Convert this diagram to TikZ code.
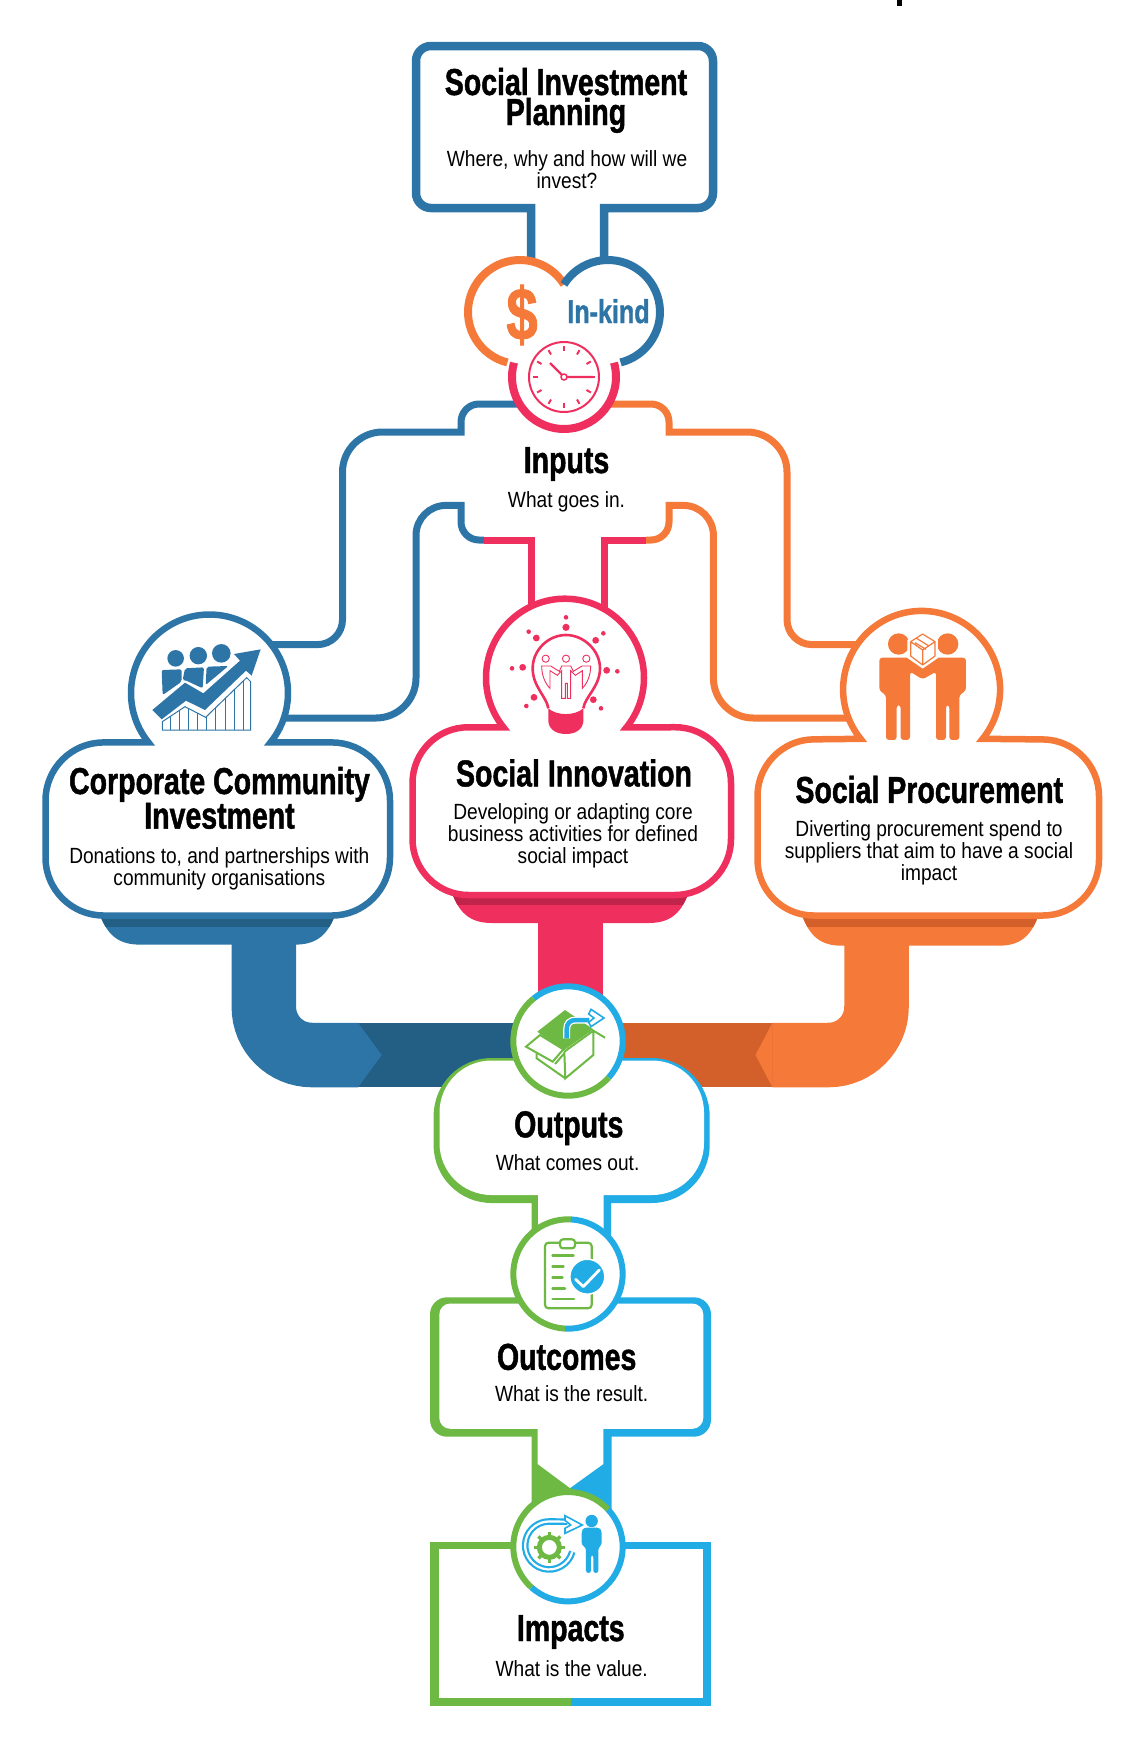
\documentclass[tikz,border=0pt]{standalone}
\usepackage{fontspec}
\usepackage{tikz}
\setmainfont{Liberation Sans}[FakeStretch=.87, BoldFeatures={FakeStretch=.76, FakeBold=1.2}]
\definecolor{stake}{HTML}{2E75A7}
\definecolor{stakedeep}{HTML}{235E85}
\definecolor{rose}{HTML}{EF2F5E}
\definecolor{rosedeep}{HTML}{C0244A}
\definecolor{tang}{HTML}{F57A39}
\definecolor{tangdeep}{HTML}{D3602A}
\definecolor{leaf}{HTML}{6DB944}
\definecolor{sky}{HTML}{22ACE5}
\newcommand{\ringarc}[5]{\draw[#1] (#2) ++(#3:#5pt) arc[start angle=#3,end angle=#4,radius=#5pt];}
\newcommand{\twotone}[2]{%
    \begin{scope}\clip (0,0) rectangle (571,1741); \fill[leaf] #1; \end{scope}
    \begin{scope}\clip (571,0) rectangle (1144,1741); \fill[sky] #1; \end{scope}
    \fill[white] #2;}

\begin{document}
\begin{tikzpicture}[
    x=1pt, y=-1pt,
    headline/.style={anchor=base, align=center, inner sep=0pt, font=\fontsize{37.5}{30}\selectfont\bfseries},
    blurb/.style={anchor=base, align=center, inner sep=0pt, font=\fontsize{22}{22}\selectfont},
    pipe/.style={line width=7pt},
    shell/.style={line width=6.5pt, fill=white, miter limit=10},
    ring/.style={line width=6pt},
    lump/.style={line width=8pt},
    trunk/.style={line width=64.5pt},
    icon/.style={shift={(#1)}, x=.3333pt, y=-.3333pt},
]
    \useasboundingbox (0,0) rectangle (1144,1741);
    \fill[black] (897,0) rectangle (902,6);

    \coordinate (cashring) at (520,312);
    \coordinate (kindring) at (608,312);
    \coordinate (clockring) at (564,377);
    \coordinate (corpring) at (209.5,693);
    \coordinate (ideasring) at (565,677.7);
    \coordinate (procring) at (921.6,689.4);
    \coordinate (outring) at (568,1041);
    \coordinate (resultring) at (568,1274);
    \coordinate (valuering) at (568,1546.7);
    \coordinate (corpstem) at (263.85,925);
    \coordinate (ideasstem) at (570.5,900);
    \coordinate (procstem) at (876.5,925);

    \draw[pipe, stake] (corpring |- 0,644.6) [rounded corners=25pt] -- (342.5,644.6) [rounded corners=40pt] -- (342.5,432) [sharp corners] -- (461,432) [rounded corners=18pt] -- (461,404) [sharp corners] -- (clockring |- 0,404);
    \draw[pipe, stake] (corpring |- 0,718) [rounded corners=40pt] -- (416,718) [rounded corners=30pt] -- (416,505.4) [sharp corners] -- (461,505.4) [rounded corners=18pt] -- (461,540) [sharp corners] -- (484,540);
    \draw[pipe, tang] (procring |- 0,644.6) [rounded corners=25pt] -- (787,644.6) [rounded corners=40pt] -- (787,432) [sharp corners] -- (669,432) [rounded corners=18pt] -- (669,404) [sharp corners] -- (clockring |- 0,404);
    \draw[pipe, tang] (procring |- 0,718) [rounded corners=40pt] -- (713.4,718) [rounded corners=30pt] -- (713.4,505.4) [sharp corners] -- (669,505.4) [rounded corners=18pt] -- (669,540) [sharp corners] -- (646,540);
    \draw[pipe, rose] (484,540) -- (531,540) -- (531,0 |- ideasring);
    \draw[pipe, rose] (646,540) -- (604,540) -- (604,0 |- ideasring);

    \draw[trunk, stakedeep] (350,1055) -- (outring |- 0,1055);
    \draw[trunk, tangdeep] (780,1055) -- (outring |- 0,1055);
    \draw[trunk, stake, rounded corners=48pt] (corpstem) |- (358,1055);
    \draw[trunk, tang, rounded corners=48pt] (procstem) |- (772.5,1055);
    \fill[stake] (358,1022.7) -- (381.7,1055) -- (358,1087.3) -- cycle;
    \fill[tang] (772.5,1022.7) -- (755.5,1055) -- (772.5,1087.3) -- cycle;
    \draw[trunk, rose] (ideasstem) -- (ideasstem |- outring);

    \foreach \sl/\sr/\st/\sb/\ink/\inkdeep in {100/335/915/944.6/stake/stakedeep, 452/688.5/893/923/rose/rosedeep, 802/1038.6/915/945.7/tang/tangdeep} {
        \fill[\ink] (\sl,\st) .. controls (\sl+8,\sb-8) and (\sl+20,\sb) .. (\sl+40,\sb) -- (\sr-40,\sb) .. controls (\sr-20,\sb) and (\sr-8,\sb-8) .. (\sr,\st) -- cycle;
        \begin{scope}
            \clip (\sl,\st) .. controls (\sl+8,\sb-8) and (\sl+20,\sb) .. (\sl+40,\sb) -- (\sr-40,\sb) .. controls (\sr-20,\sb) and (\sr-8,\sb-8) .. (\sr,\st) -- cycle;
            \fill[\inkdeep] (\sl,\st) rectangle (\sr,\st+12);
        \end{scope}
    }

    \filldraw[shell, draw=stake, line width=8.5pt] (531,275) -- (531,208) [rounded corners=15pt] -- (416,208) -- (416,46) -- (713,46) -- (713,208) [sharp corners] -- (604,208) -- (604,275);

    \filldraw[shell, draw=stake] (corpring) ++(219:78.5pt) arc[start angle=219,end angle=-39,radius=78.5pt] [rounded corners=58pt] -- (390,742.5) -- (390,915.5) -- (45.5,915.5) -- (45.5,742.5) [sharp corners] -- cycle;
    \filldraw[shell, draw=rose] (ideasring) ++(219:79pt) arc[start angle=219,end angle=-39,radius=79pt] [rounded corners=56pt] -- (731,727) -- (731,895) -- (412.5,895) -- (412.5,727) [sharp corners] -- cycle;
    \filldraw[shell, draw=tang] (procring) ++(219:78.5pt) arc[start angle=219,end angle=-39,radius=78.5pt] [rounded corners=56pt] -- (1099,740) -- (1099,915.5) -- (757.5,915.5) -- (757.5,740) [sharp corners] -- cycle;

    \twotone{(531.7,1235) -- (531.7,1203) [rounded corners=58pt] -- (433.6,1203) -- (433.6,1058) -- (709.7,1058) -- (709.7,1203) [sharp corners] -- (611,1203) -- (611,1235) -- cycle}{(538,1245) -- (538,1195) [rounded corners=52pt] -- (439.5,1195) -- (439.5,1060.5) -- (704,1060.5) -- (704,1195) [sharp corners] -- (603.5,1195) -- (603.5,1245) -- cycle}
    \twotone{(531.7,1510) -- (531.7,1436.7) [rounded corners=17pt] -- (430,1436.7) -- (430,1297.3) -- (711,1297.3) -- (711,1436.7) [sharp corners] -- (611.7,1436.7) -- (611.7,1510) -- cycle}{(537.7,1464) -- (537.7,1428.8) [rounded corners=11pt] -- (439.3,1428.8) -- (439.3,1303.5) -- (703.3,1303.5) -- (703.3,1428.8) [sharp corners] -- (603.3,1428.8) -- (603.3,1464) -- (570,1488) -- cycle}
    \twotone{(430,1541.6) rectangle (711,1705.5)}{(439.3,1549) rectangle (703.3,1698)}

    \fill[white] (outring) circle[radius=55pt];
    \fill[white] (resultring) circle[radius=55pt];
    \fill[white] (valuering) circle[radius=55pt];
    \ringarc{ring, sky}{outring}{129}{-42}{54.7}
    \ringarc{ring, leaf}{outring}{129}{318}{54.7}
    \ringarc{ring, leaf}{resultring}{87}{267}{54.7}
    \ringarc{ring, sky}{resultring}{87}{-93}{54.7}
    \ringarc{ring, sky}{valuering}{43}{-132}{54.7}
    \ringarc{ring, leaf}{valuering}{43}{228}{54.7}

    \fill[white] (cashring) circle[radius=52pt];
    \fill[white] (kindring) circle[radius=52pt];
    \fill[white] (clockring) circle[radius=52pt];
    \ringarc{lump, tang}{cashring}{32}{256}{52}
    \ringarc{lump, stake}{kindring}{148}{-76}{52}
    \ringarc{lump, rose}{clockring}{164}{376}{52}

    \node[font=\fontsize{74}{74}\selectfont\bfseries, text=tang, inner sep=0pt] (cashsign) at (522,315) {\$};
    \node[font=\fontsize{33}{33}\selectfont\bfseries, text=stake, anchor=base, inner sep=0pt] (kindsign) at (608.5,323) {In-kind};

    \draw[rose, line width=2pt] (clockring) circle[radius=35pt];
    \foreach \a in {0,30,...,330} {
        \draw[rose, line width=2pt] (clockring) ++(\a:26pt) -- ++(\a:5pt);
    }
    \draw[rose, line width=2.2pt] (clockring) ++(-14,-14) -- (clockring) -- ++(29,0);
    \filldraw[rose, fill=white, line width=1.5pt] (clockring) circle[radius=3pt];

    \node[headline] (plantitle) at (566,125) {Social Investment\\Planning};
    \node[blurb] (planblurb) at (567,188) {Where, why and how will we\\invest?};
    \node[headline] (inputstitle) at (566.5,473) {Inputs};
    \node[blurb] (inputsblurb) at (566.5,507) {What goes in.};
    \node[headline] (corptitle) at (219.5,828.6) {Corporate Community\\Investment};
    \node[blurb] (corpblurb) at (219.3,885.7) {Donations to, and partnerships with\\community organisations};
    \node[headline] (ideastitle) at (574,786.4) {Social Innovation};
    \node[blurb] (ideasblurb) at (573,863.6) {Developing or adapting core\\business activities for defined\\social impact};
    \node[headline] (proctitle) at (929.3,802.9) {Social Procurement};
    \node[blurb] (procblurb) at (929,880) {Diverting procurement spend to\\suppliers that aim to have a social\\impact};
    \node[headline] (outtitle) at (568.8,1137.3) {Outputs};
    \node[blurb] (outblurb) at (567.6,1170) {What comes out.};
    \node[headline] (resulttitle) at (566.7,1369.8) {Outcomes};
    \node[blurb] (resultblurb) at (571.7,1401.9) {What is the result.};
    \node[headline] (valuetitle) at (570.8,1641) {Impacts};
    \node[blurb] (valueblurb) at (571.7,1676) {What is the value.};

    \begin{scope}[icon={140,630}]
        \fill[stake] (107,85) circle[radius=8.3pt] (175,77) circle[radius=8.7pt] (244,70) circle[radius=9.3pt];
        \fill[stake, rounded corners=2pt] (65,120) -- (125,118) -- (125,155) -- (68,195) -- cycle;
        \fill[stake, rounded corners=2pt] (135,115) -- (192,112) -- (188,175) -- (135,150) -- (128,150) -- cycle;
        \fill[stake, rounded corners=2pt] (200,110) -- (265,108) -- (197,165) -- cycle;
        \fill[stake] (65,268) -- (138,212) -- (195,240) -- (318,122) -- (335,137) -- (362,58) -- (282,72) -- (300,92) -- (190,190) -- (135,158) -- (37,240) -- cycle;
        \begin{scope}
            \clip (67,300) -- (332,300) -- (332,155) -- (320,143) -- (197,262) -- (135,230) -- (67,275) -- cycle;
            \foreach \x in {93,120,147,173,200,228,257,285,310} {
                \draw[stake, line width=1pt] (\x,140) -- (\x,300);
            }
        \end{scope}
        \draw[stake, line width=1pt] (67,300) -- (332,300) -- (332,155) -- (320,143) -- (197,262) -- (135,230) -- (67,275) -- cycle;
    \end{scope}

    \begin{scope}[icon={500,600}]
        \foreach \dx/\dy/\dr in {198/52/2.3, 198/82/3.6, 86/95/2.3, 109/114/3.4, 310/100/2.3, 287/121/3.4, 36/205/2.3, 68/202/3.4, 352/214/2.3, 320/211/3.4, 102/292/3.4, 79/318/2.3, 280/299/3.4, 303/325/2.3} {
            \fill[rose] (\dx,\dy) circle[radius=\dr pt];
        }
        \draw[rose, line width=2.6pt] (145,325) .. controls (140,290) and (98,260) .. (98,205) .. controls (98,150) and (145,105) .. (198,105) .. controls (250,105) and (300,150) .. (300,205) .. controls (300,260) and (255,290) .. (250,325);
        \fill[rose] (145,325) .. controls (170,348) and (225,348) .. (250,325) -- (250,365) .. controls (247,390) and (225,402) .. (198,402) .. controls (170,402) and (148,390) .. (145,365) -- cycle;
        \foreach \hx in {137,198,259} {
            \draw[rose, line width=.9pt] (\hx,176) circle[radius=3.6pt];
        }
        \draw[rose, line width=.9pt] (125,198) -- (152,198) -- (178,214) -- (185,198) -- (212,198) -- (220,214) -- (246,198) -- (272,198) .. controls (272,225) and (262,250) .. (247,265) -- (247,212) -- (226,226) -- (212,212) -- (212,295) -- (202,295) -- (202,250) -- (196,250) -- (196,295) -- (185,295) -- (185,212) -- (172,226) -- (150,212) -- (150,265) .. controls (135,250) and (125,225) .. (125,198) -- cycle;
    \end{scope}

    \begin{scope}[icon={860,620}]
        \fill[tang] (116,72) circle[radius=10.7pt] (263,72) circle[radius=10.7pt];
        \fill[tang, rounded corners=3pt] (58,113) -- (150,113) -- (188,142) -- (228,113) -- (318,113) -- (318,212) -- (298,225) -- (298,360) -- (268,360) -- (268,255) -- (258,255) -- (258,360) -- (228,360) -- (228,155) -- (188,178) -- (150,155) -- (150,360) -- (122,360) -- (122,255) -- (110,255) -- (110,360) -- (78,360) -- (78,225) -- (58,212) -- cycle;
        \filldraw[draw=white, fill=white, line width=2.5pt] (188,36) -- (230,62) -- (230,112) -- (188,141) -- (146,112) -- (146,62) -- cycle;
        \draw[tang, line width=1.2pt, line join=round] (188,42) -- (225,65) -- (225,108) -- (188,135) -- (152,108) -- (152,65) -- cycle (152,65) -- (188,90) -- (225,65) (188,90) -- (188,135) (170,55) -- (205,77) (165,68) -- (198,88);
    \end{scope}

    \begin{scope}[icon={510,990}]
        \fill[leaf] (165,60) -- (82,125) -- (160,182) -- (250,118) -- cycle;
        \draw[leaf, line width=2pt] (163,185) -- (250,122) -- (285,143) (250,122) -- (250,195) -- (166,265) -- (163,185) (135,222) -- (163,190) (166,265) -- (80,205) -- (80,190);
        \filldraw[leaf, fill=white, line width=2pt] (48,170) -- (90,135) -- (160,178) -- (128,215) -- cycle;
        \draw[white, line width=7pt] (170,145) -- (170,118) .. controls (170,100) and (180,90) .. (198,90) -- (238,90);
        \draw[sky, line width=4.5pt] (170,145) -- (170,118) .. controls (170,100) and (180,90) .. (198,90) -- (238,90);
        \filldraw[sky, fill=white, line width=1.6pt] (236,72) -- (243,58) -- (282,84) -- (243,110) -- (236,97) -- (252,84) -- cycle;
    \end{scope}

    \begin{scope}[icon={510,1220}]
        \draw[leaf, line width=2.2pt, rounded corners=3.5pt] (105,68) rectangle (245,265);
        \filldraw[leaf, fill=white, line width=2.2pt, rounded corners=3pt] (150,58) rectangle (195,85);
        \foreach \ly/\lx in {107/190, 140/160, 172/157, 205/165, 237/192} {
            \draw[leaf, line width=2.8pt, line cap=round] (128,\ly) -- (\lx,\ly);
        }
        \filldraw[sky, draw=white, line width=1.5pt] (232,170) circle[radius=17.5pt];
        \draw[white, line width=2.8pt, line cap=round, line join=round] (197,178) -- (220,200) -- (268,150);
    \end{scope}

    \begin{scope}[icon={510,1495}]
        \fill[sky] (245,78) circle[radius=6.2pt];
        \fill[sky, rounded corners=2.5pt] (222,98) -- (268,98) -- (275,108) -- (275,150) -- (265,158) -- (265,234) -- (250,234) -- (250,180) -- (243,180) -- (243,234) -- (228,234) -- (228,158) -- (215,150) -- (215,108) -- cycle;
        \draw[sky, line width=2.2pt, double=white, double distance=2.2pt] (187,170) arc[start angle=-15,end angle=-270,radius=24pt] -- (172,80);
        \filldraw[sky, fill=white, line width=1.6pt] (165,76) -- (165,62) -- (217,90) -- (165,115) -- (165,100) -- (182,90) -- cycle;
        \draw[leaf, line width=5pt] (118,157) circle[radius=10pt];
        \foreach \a in {0,45,...,315} {
            \draw[leaf, line width=3.4pt] (118,157) ++(\a:11pt) -- ++(\a:4.5pt);
        }
    \end{scope}
\end{tikzpicture}
\end{document}
